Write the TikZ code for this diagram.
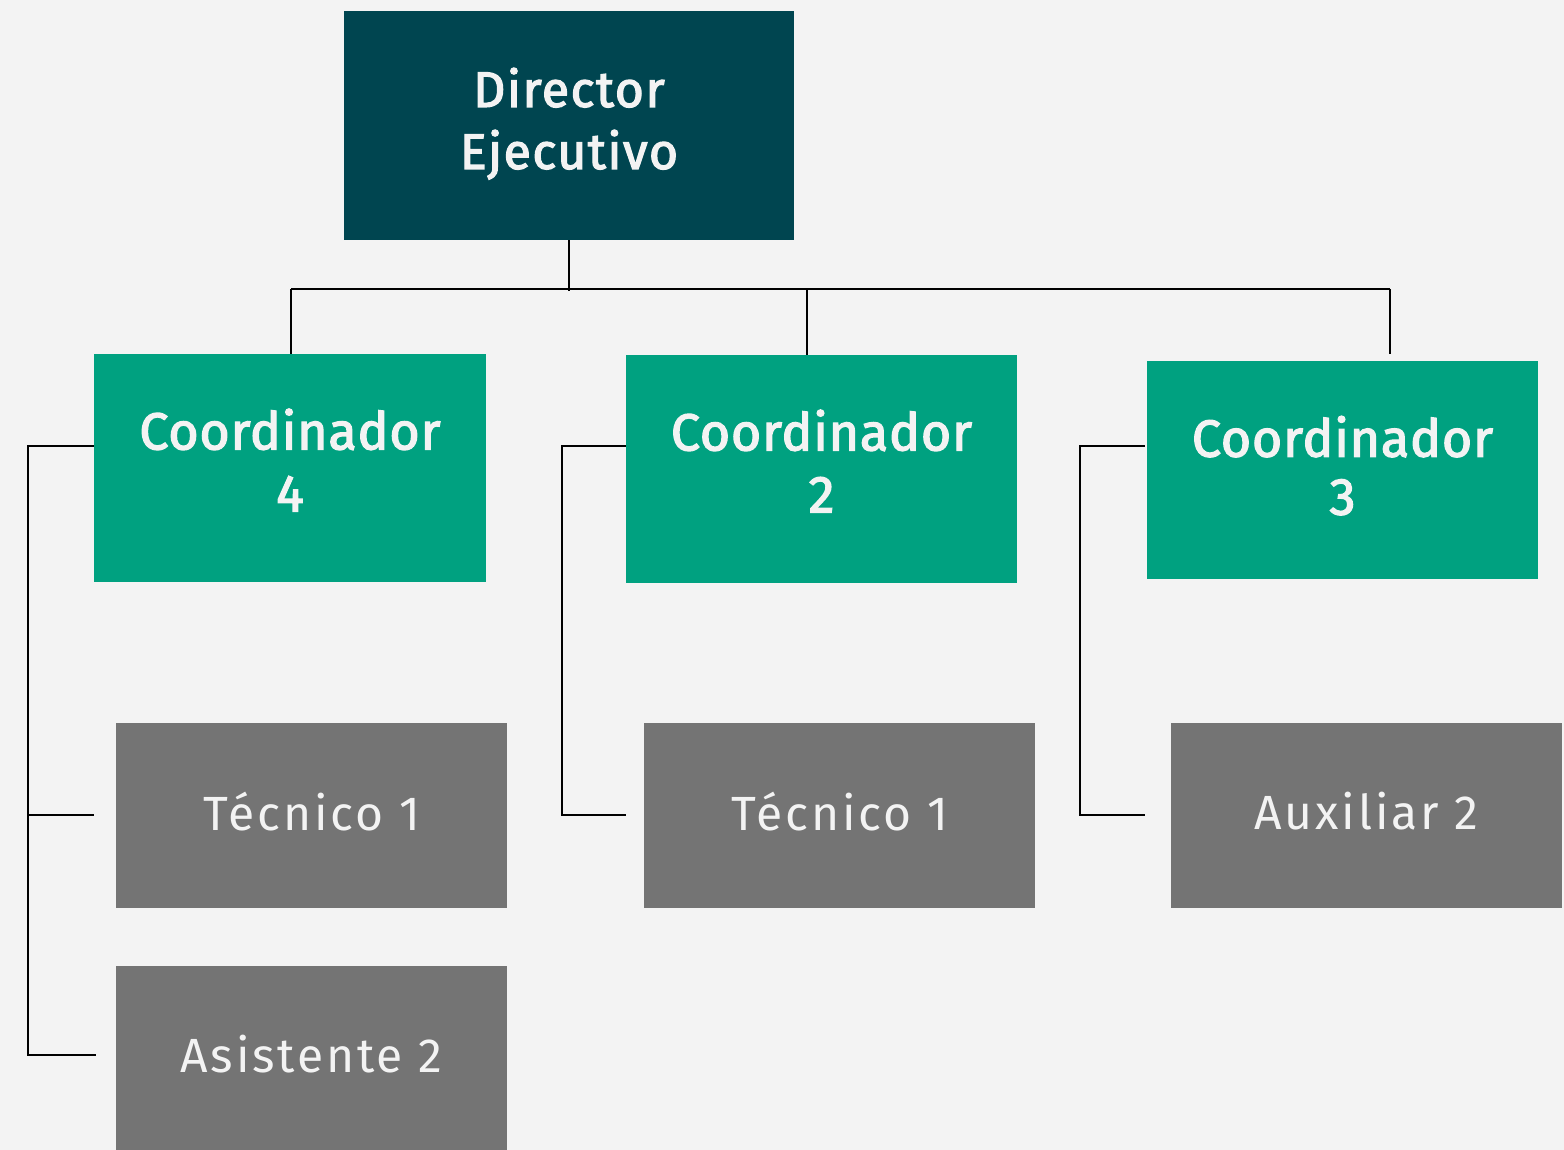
\documentclass[tikz,border=0pt]{standalone}
\usepackage{fontspec}
\setmainfont{Fira Sans}
\newfontfamily\medfont{Fira Sans}[FakeBold=2.5,LetterSpace=1.5]
\newfontfamily\dirfont{Fira Sans}[FakeBold=2.5,LetterSpace=3]
\newfontfamily\litefont{Fira Sans}[LetterSpace=6]
\definecolor{bgc}{RGB}{243,243,243}
\definecolor{darkteal}{RGB}{0,69,80}
\definecolor{greenc}{RGB}{0,161,128}
\definecolor{grayc}{RGB}{116,116,116}
\definecolor{txt}{RGB}{243,243,243}
\newcommand\twolines[3]{\raisebox{0pt}[\dimexpr\height+#1\relax][\dimexpr\depth-#1\relax]{\begin{tabular}{@{}c@{}}#2\\#3\end{tabular}}}
\tikzset{
  box/.style={rectangle, inner sep=0pt, align=center, text=txt},
  topbox/.style={box, fill=darkteal, font=\dirfont\fontsize{25}{31}\selectfont},
  coordbox/.style={box, fill=greenc, font=\medfont\fontsize{26}{31}\selectfont},
  staffbox/.style={box, fill=grayc, font=\litefont\fontsize{24}{30}\selectfont},
  conn/.style={draw=black, line width=1pt}
}
\begin{document}
\begin{tikzpicture}[x=0.5pt,y=-0.5pt]
\fill[bgc] (0,0) rectangle (1564,1150);
\useasboundingbox (0,0) rectangle (1564,1150);
\node[topbox, minimum width=225pt, minimum height=114.5pt] (dir) at (569,125.5) {\twolines{0pt}{Director}{Ejecutivo}};
\node[coordbox, minimum width=196pt, minimum height=114pt] (c4) at (290,468) {\twolines{0pt}{Coordinador}{4}};
\node[coordbox, minimum width=195.5pt, minimum height=114pt] (c2) at (821.5,469) {\twolines{0pt}{Coordinador}{2}};
\node[coordbox, minimum width=195.5pt, minimum height=109pt, font=\medfont\fontsize{26}{29}\selectfont] (c3) at (1342.5,470) {\twolines{2pt}{Coordinador}{3}};
\node[staffbox, minimum width=195.5pt, minimum height=92.5pt] (t1) at (311.5,815.5) {\raisebox{4.5pt}{Técnico 1}};
\node[staffbox, minimum width=195.5pt, minimum height=92pt] (as) at (311.5,1058) {\raisebox{4pt}{Asistente 2}};
\node[staffbox, minimum width=195.5pt, minimum height=92.5pt] (t2) at (839.5,815.5) {\raisebox{4.5pt}{Técnico 1}};
\node[staffbox, minimum width=195.5pt, minimum height=92.5pt] (ax) at (1366.5,815.5) {\raisebox{4.5pt}{Auxiliar 2}};
% top bus
\coordinate (busL) at (291,289);
\coordinate (busM) at (807,289);
\coordinate (busR) at (1390,289);
\draw[conn] (dir.south) -- (dir.south |- 0,291);
\draw[conn] (busL) -- (busR);
\draw[conn] (busL) -- (busL |- c4.north);
\draw[conn] (busM) -- (busM |- c2.north);
\draw[conn] (busR) -- (1390,354);
% left branch
\coordinate (l1) at (28,446);
\coordinate (l2) at (28,1055);
\coordinate (l3) at (28,815);
\draw[conn] (c4.west |- l1) -- (l1) -- (l2) -- (96,1055);
\draw[conn] (l3) -- (94,815);
% middle branch
\coordinate (m1) at (562,446);
\coordinate (m2) at (562,815);
\draw[conn] (c2.west |- m1) -- (m1) -- (m2) -- (626,815);
% right branch
\coordinate (r1) at (1080,446);
\coordinate (r2) at (1080,815);
\draw[conn] (1145,446) -- (r1) -- (r2) -- (1145,815);
\end{tikzpicture}
\end{document}
